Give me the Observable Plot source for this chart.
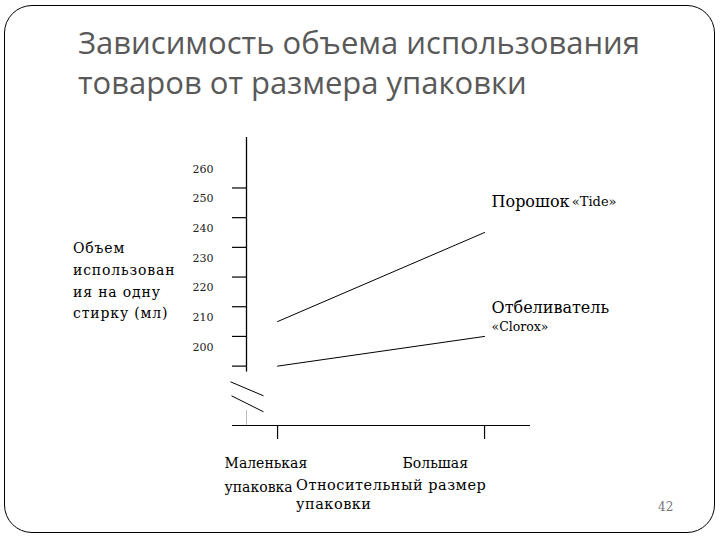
<!DOCTYPE html>
<html>
<head>
<meta charset="utf-8">
<script src="https://cdn.jsdelivr.net/npm/d3@7"></script>
<script src="https://cdn.jsdelivr.net/npm/@observablehq/plot@0.6"></script>
<style>
  html, body { margin: 0; padding: 0; background: #fff; }
  #page { position: relative; width: 720px; height: 540px; overflow: hidden; background: #fff; }
  #frame { position: absolute; left: 4px; top: 5px; width: 709px; height: 526px; border: 1.5px solid #000; border-radius: 28px; }
  #title { position: absolute; left: 78px; top: 22px; font-family: "Open Sans", sans-serif; font-size: 31px; line-height: 40px; color: #595959; white-space: nowrap; }
  #ylabel { position: absolute; left: 73px; top: 238px; font-family: "DejaVu Serif", serif; font-size: 14px; line-height: 21.8px; color: #000; letter-spacing: 0.85px; }
  #xlabel { position: absolute; left: 292px; top: 470px; padding: 6px 6px 4px 4px; background: #fff; font-family: "DejaVu Serif", serif; font-size: 14.5px; line-height: 19px; color: #000; letter-spacing: 0.5px; white-space: nowrap; }
  #pagenum { position: absolute; left: 658px; top: 500px; font-family: "DejaVu Serif", serif; font-size: 12px; color: #777; }
  #chart { position: absolute; left: 0; top: 0; }
  #chart g[aria-label="size-label"] text { letter-spacing: 0.5px; }
</style>
</head>
<body>
<div id="page">
  <div id="frame"></div>
  <div id="chart"></div>
  <div id="title">Зависимость объема использования<br>товаров от размера упаковки</div>
  <div id="ylabel">Объем<br>использован<br>ия на одну<br>стирку (мл)</div>
  <div id="xlabel">Относительный размер<br>упаковки</div>
  <div id="pagenum">42</div>
</div>
<script>
// ---- data ----
const sizeLabels = ["Маленькая\nупаковка", "Большая"];
const sizeIndex = [1, 2];
const tideValues = [215, 245];
const cloroxValues = [200, 210];
const products = ["Порошок", "Отбеливатель"];
const brands = ["«Tide»", "«Clorox»"];
const yTicks = [200, 210, 220, 230, 240, 250, 260];
const yDomain = [180, 277];
const xDomain = [0.85, 2.222];
const axisBreak = 190;

const rows = [
  ...sizeIndex.map((s, i) => ({series: products[0], size: s, value: tideValues[i]})),
  ...sizeIndex.map((s, i) => ({series: products[1], size: s, value: cloroxValues[i]}))
];
const ends = [
  {product: products[0], brand: brands[0], size: sizeIndex[1], value: tideValues[1]},
  {product: products[1], brand: brands[1], size: sizeIndex[1], value: cloroxValues[1]}
];
const xLabels = sizeIndex.map((s, i) => ({size: s, label: sizeLabels[i]}));

const breakSymbol = {
  draw(ctx) {
    ctx.moveTo(-16, -14); ctx.lineTo(17, 0);
    ctx.moveTo(-15, 0); ctx.lineTo(17, 16);
  }
};

const serif = "DejaVu Serif";

const chart = Plot.plot({
  width: 720,
  height: 540,
  marginLeft: 246,
  marginRight: 190,
  marginTop: 137,
  marginBottom: 115,
  style: {background: "transparent", fontFamily: serif, color: "#000", overflow: "visible"},
  x: {type: "linear", domain: xDomain, axis: null},
  y: {type: "linear", domain: yDomain, axis: null},
  marks: [
    // y-axis line, broken
    Plot.ruleX([{y1: yDomain[1], y2: axisBreak + 8}], {x: () => xDomain[0], y1: "y1", y2: "y2", stroke: "#000", strokeWidth: 1.3}),
    Plot.ruleX([{y1: axisBreak - 5, y2: yDomain[0]}], {x: () => xDomain[0], y1: "y1", y2: "y2", stroke: "#bbb", strokeWidth: 1}),
    Plot.dot([{x: xDomain[0], y: axisBreak}], {x: "x", y: "y", symbol: breakSymbol, r: 5, stroke: "#000", fill: "none", strokeWidth: 1}),
    // y ticks and offset labels
    Plot.axisY({ticks: yTicks, tickSize: 14, tickFormat: () => "", label: null, strokeWidth: 1.2}),
    Plot.axisY({ticks: yTicks, tickSize: 0, tickPadding: 33, dy: -19, label: null, fontSize: 11, fontFamily: serif, fill: "#222"}),
    // x axis line and ticks
    Plot.ruleY([yDomain[0]], {insetLeft: -14, stroke: "#000", strokeWidth: 1.2}),
    Plot.axisX({ticks: sizeIndex, tickSize: 14, tickFormat: () => "", label: null, strokeWidth: 1.2}),
    Plot.text(xLabels.filter((d, i) => i === 0), {ariaLabel: "size-label", x: "size", y: () => yDomain[0], text: "label", textAnchor: "start", lineAnchor: "top", dx: -53, dy: 26, lineHeight: 1.68, fontSize: 14, fontFamily: serif, fill: "#000"}),
    Plot.text(xLabels.filter((d, i) => i === 1), {ariaLabel: "size-label", x: "size", y: () => yDomain[0], text: "label", textAnchor: "start", lineAnchor: "top", dx: -82, dy: 26, lineHeight: 1.68, fontSize: 14, fontFamily: serif, fill: "#000"}),
    // series lines
    Plot.line(rows, {x: "size", y: "value", z: "series", stroke: "#000", strokeWidth: 1}),
    // annotations
    Plot.text(ends.filter((d, i) => i === 0), {x: "size", y: "value", text: "product", textAnchor: "start", lineAnchor: "middle", dx: 7, dy: -31, fontSize: 16, fontFamily: serif, fill: "#000"}),
    Plot.text(ends.filter((d, i) => i === 0), {x: "size", y: "value", text: "brand", textAnchor: "end", lineAnchor: "middle", dx: 132, dy: -31, fontSize: 13, fontFamily: serif, fill: "#000"}),
    Plot.text(ends.filter((d, i) => i === 1), {x: "size", y: "value", text: "product", textAnchor: "start", lineAnchor: "middle", dx: 7, dy: -29, fontSize: 16, fontFamily: serif, fill: "#000"}),
    Plot.text(ends.filter((d, i) => i === 1), {x: "size", y: "value", text: "brand", textAnchor: "start", lineAnchor: "middle", dx: 7, dy: -9, fontSize: 12.5, fontFamily: serif, fill: "#000"})
  ]
});
document.getElementById("chart").appendChild(chart);
</script>
</body>
</html>
